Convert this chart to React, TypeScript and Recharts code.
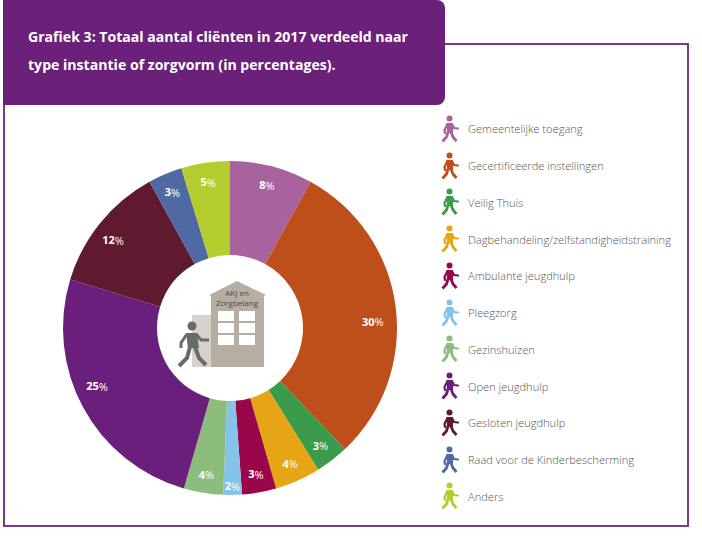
import { PieChart, Pie, Cell, Legend } from "recharts";

const categories = [
  "Gemeentelijke toegang",
  "Gecertificeerde instellingen",
  "Veilig Thuis",
  "Dagbehandeling/zelfstandigheidstraining",
  "Ambulante jeugdhulp",
  "Pleegzorg",
  "Gezinshuizen",
  "Open jeugdhulp",
  "Gesloten jeugdhulp",
  "Raad voor de Kinderbescherming",
  "Anders",
];
// slice sizes, the labels show them rounded
const percentages = [8.0, 29.9, 3.2, 4.4, 3.3, 1.8, 3.8, 25.2, 12.3, 3.3, 4.7];
const colors = [
  "#a8639f", "#bf4f1a", "#3a9b4a", "#e6a514", "#99064a", "#85c3ea",
  "#8dbd7c", "#6b1f7c", "#5f1a30", "#4f6aa3", "#b5cc2e",
];

const data = categories.map((name, i) => ({ name, value: percentages[i] }));

const PURPLE = "#6b2079";
const FONT = "'Open Sans', sans-serif";

function Walker({ color }: { color: string }) {
  return (
    <svg width={20} height={28} viewBox="0 0 20 28" style={{ flex: "none" }}>
      <circle cx={9.5} cy={3.5} r={3} fill={color} />
      <path d="M6.5 8 L12 8 L13 12 L13 18 L7 18 Z" fill={color} />
      <path d="M7.5 9 L4.5 15 L5 18" stroke={color} strokeWidth={2.2} fill="none" strokeLinecap="round" />
      <path d="M12 9 L14 13 L18 13.5" stroke={color} strokeWidth={2.2} fill="none" strokeLinecap="round" />
      <path d="M8 17 L6.5 22 L2.5 26.5" stroke={color} strokeWidth={2.8} fill="none" strokeLinejoin="round" />
      <path d="M11 17 L13 22 L16.5 26" stroke={color} strokeWidth={2.8} fill="none" strokeLinejoin="round" />
    </svg>
  );
}

function LegendList({ payload }: any) {
  return (
    <div>
      {(payload || []).map((p: any, i: number) => (
        <div key={i} style={{ display: "flex", alignItems: "center", height: 36.75 }}>
          <Walker color={colors[i]} />
          <span style={{ marginLeft: 8, fontFamily: FONT, fontSize: 11.1, fontWeight: 300, color: "#555", whiteSpace: "nowrap" }}>
            {p.value}
          </span>
        </div>
      ))}
    </div>
  );
}

const RAD = Math.PI / 180;

function sliceLabel({ cx, cy, midAngle, value, index }: any) {
  const r = index === 5 ? 158 : 148;
  // the two big labels sit off their slice's middle in the original
  const dx = index === 1 ? -4 : index === 7 ? -3 : index === 8 ? -2 : 0;
  const dy = index === 1 ? 12 : index === 7 ? -13 : index === 8 ? 5 : 0;
  return (
    <text
      x={cx + r * Math.cos(-midAngle * RAD) + dx}
      y={cy + r * Math.sin(-midAngle * RAD) + dy}
      fill="#fff"
      textAnchor="middle"
      dominantBaseline="central"
      fontFamily={FONT}
      fontSize={11}
      fontWeight={700}
    >
      {Math.round(value)}
      <tspan fontWeight={400}>%</tspan>
    </text>
  );
}

function Building() {
  const wall = "#b7aea3";
  return (
    <g>
      <rect x={192} y={315} width={19} height={52} fill="#d6d1ca" />
      <path d="M211 367 L211 296 L209 295 L237 281 L266 295 L264 296 L264 367 Z" fill={wall} />
      {[311, 323, 335].map((y) =>
        [218, 239].map((x) => <rect key={`${x}-${y}`} x={x} y={y} width={16} height={10} fill="#fff" />)
      )}
      <text x={237} y={296} textAnchor="middle" fontFamily={FONT} fontSize={8} fill="#4a4a4a">AKJ en</text>
      <text x={237} y={306} textAnchor="middle" fontFamily={FONT} fontSize={8} fill="#4a4a4a">Zorgbelang</text>
      <circle cx={192} cy={326} r={4.5} fill="#6a6a6a" />
      <path d="M186 333 L197 333 L199 348 L188 348 Z" fill="#6a6a6a" />
      <path d="M187 334 L181 343 L181 348" stroke="#6a6a6a" strokeWidth={3} fill="none" />
      <path d="M196 334 L201 340 L209 340" stroke="#6a6a6a" strokeWidth={3} fill="none" />
      <path d="M190 347 L187 358 L179 366" stroke="#6a6a6a" strokeWidth={4} fill="none" />
      <path d="M195 347 L199 358 L206 365" stroke="#6a6a6a" strokeWidth={4} fill="none" />
    </g>
  );
}

export default function App() {
  return (
    <div style={{ position: "absolute", left: 0, top: 0, width: 702, height: 545, background: "#fff", overflow: "hidden" }}>
      <div style={{ position: "absolute", left: 3, top: 43, width: 682, height: 480, border: "2px solid #7a3a8a" }} />
      <div
        style={{
          position: "absolute", left: 3, top: 0, width: 442, height: 105, background: PURPLE,
          borderRadius: "0 8px 8px 0", color: "#fff", fontFamily: FONT, fontWeight: 700, fontSize: 14.1,
        }}
      >
        <div style={{ position: "absolute", left: 25, top: 27, whiteSpace: "nowrap" }}>Grafiek 3: Totaal aantal cliënten in 2017 verdeeld naar</div>
        <div style={{ position: "absolute", left: 25, top: 55, whiteSpace: "nowrap" }}>type instantie of zorgvorm (in percentages).</div>
      </div>
      <div style={{ position: "absolute", left: 0, top: 0 }}>
        <PieChart width={702} height={545} margin={{ top: 0, right: 0, bottom: 0, left: 0 }}>
          <Pie
            data={data}
            dataKey="value"
            nameKey="name"
            cx={230}
            cy={328}
            innerRadius={73}
            outerRadius={167}
            startAngle={90}
            endAngle={-270}
            stroke="none"
            label={sliceLabel}
            labelLine={false}
            isAnimationActive={false}
          >
            {data.map((d, i) => (
              <Cell key={d.name} fill={colors[i]} />
            ))}
          </Pie>
          <Legend
            layout="vertical"
            itemSorter={null}
            content={<LegendList />}
            wrapperStyle={{ position: "absolute", left: 440, top: 110.5, width: 250 }}
          />
          <Building />
        </PieChart>
      </div>
    </div>
  );
}
